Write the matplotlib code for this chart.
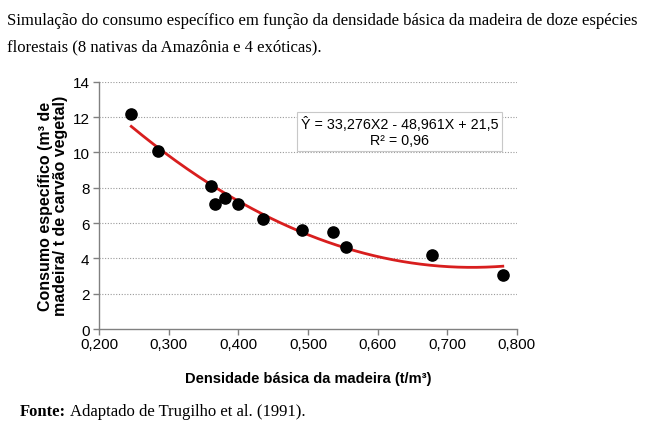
import numpy as np
import matplotlib
matplotlib.use("Agg")
import matplotlib.pyplot as plt

densidade = [0.246, 0.285, 0.361, 0.367, 0.381, 0.400, 0.435, 0.491, 0.536, 0.554, 0.678, 0.780]
consumo = [12.2, 10.1, 8.08, 7.1, 7.44, 7.08, 6.25, 5.59, 5.51, 4.64, 4.17, 3.06]
coef = [33.276, -48.961, 21.5]
x_ticks = [0.2, 0.3, 0.4, 0.5, 0.6, 0.7, 0.8]
x_tick_labels = ["0,200", "0,300", "0,400", "0,500", "0,600", "0,700", "0,800"]
y_ticks = [0, 2, 4, 6, 8, 10, 12, 14]

fig = plt.figure(figsize=(6.51, 4.31), dpi=100)
ax = fig.add_axes([0.1525, 0.2343, 0.6412, 0.5738])

sans = ["Liberation Sans", "DejaVu Sans"]
serif = ["Liberation Serif", "DejaVu Serif"]

for y in y_ticks[1:]:
    ax.axhline(y, color="#9a9a9a", lw=0.8, ls=(0, (1, 1.5)), zorder=0)

xs = np.linspace(min(densidade), max(densidade), 200)
ax.plot(xs, np.polyval(coef, xs), color="#d81e1e", lw=2.0, zorder=2)
ax.scatter(densidade, consumo, s=65, color="black", zorder=3)

ax.set_xlim(0.2, 0.8)
ax.set_ylim(0, 14)
ax.set_xticks(x_ticks)
ax.set_xticklabels(x_tick_labels, family=sans, fontsize=11)
ax.set_yticks(y_ticks)
ax.set_yticklabels([str(v) for v in y_ticks], family=sans, fontsize=11)
for s in ["top", "right"]:
    ax.spines[s].set_visible(False)
for s in ["left", "bottom"]:
    ax.spines[s].set_color("#808080")
    ax.spines[s].set_linewidth(1.0)
ax.tick_params(direction="out", color="#808080", length=4, width=1.0)
ax.tick_params(axis="x", pad=2)
ax.tick_params(axis="y", pad=3)

ax.set_xlabel("Densidade básica da madeira (t/m³)", family=sans, fontsize=10.5,
              fontweight="bold", labelpad=14)
ax.set_ylabel("Consumo específico (m³ de\nmadeira/ t de carvão vegetal)", family=sans,
              fontsize=11.5, fontweight="bold", labelpad=3, linespacing=1.0)

ax.text(0.632, 11.18, "Ŷ = 33,276X2 - 48,961X + 21,5\nR² = 0,96", family=sans, fontsize=10.3,
        ha="center", va="center", linespacing=1.2,
        bbox=dict(boxstyle="square,pad=0.25", fc="white", ec="#c8c8c8", lw=0.8), zorder=4)

fig.text(7/651, 1-21/431, "Simulação do consumo específico em função da densidade básica da madeira de doze espécies",
         family=serif, fontsize=12, va="center", ha="left")
fig.text(7/651, 1-47/431, "florestais (8 nativas da Amazônia e 4 exóticas).",
         family=serif, fontsize=12, va="center", ha="left")
t1 = fig.text(20/651, 1-412/431, "Fonte:", family=serif, fontsize=12, va="center",
              ha="left", fontweight="bold")
fig.canvas.draw()
bb = t1.get_window_extent()
fig.text((bb.x1 + 4) / fig.bbox.width, 1-412/431, "Adaptado de Trugilho et al. (1991).",
         family=serif, fontsize=12, va="center", ha="left")
fig.savefig("out.png", dpi=100)
